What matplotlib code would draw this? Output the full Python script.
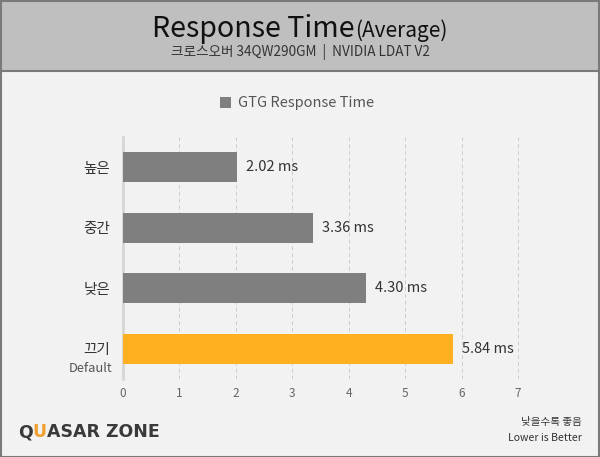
import matplotlib
matplotlib.use("Agg")
import matplotlib.pyplot as plt
from matplotlib.patches import Rectangle

plt.rcParams['font.family'] = ['Noto Sans CJK KR', 'DejaVu Sans']

categories = ['높은', '중간', '낮은', '끄기']
values = [2.02, 3.36, 4.30, 5.84]
bar_colors = ['#7f7f7f', '#7f7f7f', '#7f7f7f', '#ffb020']
value_labels = ['2.02 ms', '3.36 ms', '4.30 ms', '5.84 ms']
xticks = [0, 1, 2, 3, 4, 5, 6, 7]
title_main = 'Response Time'
title_sub = '(Average)'
subtitle = '크로스오버 34QW290GM  |  NVIDIA LDAT V2'
legend_label = 'GTG Response Time'

W, H = 600, 457
fig = plt.figure(figsize=(W / 100, H / 100), dpi=100)
fig.patch.set_facecolor('#f2f2f2')

# header band
fig.patches.append(Rectangle((0, 1 - 71 / H), 1, 71 / H, transform=fig.transFigure,
                             facecolor='#bfbfbf', edgecolor='none', zorder=0))
fig.lines.append(plt.Line2D([0, 1], [1 - 71 / H, 1 - 71 / H], transform=fig.transFigure,
                            color='#7a7a7a', lw=1.5))
# outer border
fig.patches.append(Rectangle((0.5 / W, 0.5 / H), 1 - 1.5 / W, 1 - 1.5 / H, transform=fig.transFigure,
                             facecolor='none', edgecolor='#7a7a7a', lw=1.5, zorder=10))

# title
t1 = fig.text(0, 0, title_main, fontsize=20.6, color='#111111', va='baseline', ha='left')
t2 = fig.text(0, 0, title_sub, fontsize=15, color='#111111', va='baseline', ha='left')
fig.canvas.draw()
r = fig.canvas.get_renderer()
w1 = t1.get_window_extent(r).width
w2 = t2.get_window_extent(r).width
x0 = (W - (w1 + w2)) / 2
t1.set_position((x0 / W, 1 - 37 / H))
t2.set_position(((x0 + w1) / W, 1 - 37 / H))

fig.text(0.5, 1 - 52 / H, subtitle, fontsize=9.8, color='#333333', ha='center', va='center')

# axes
ax_left = 123 / W
unit = (518 - 123) / 7
ax_right_px = 123 + unit * 7.3
ax = fig.add_axes([ax_left, 1 - 379 / H, (ax_right_px - 123) / W, (379 - 137) / H])
ax.set_facecolor('none')
ypos = list(range(len(categories)))[::-1]
ax.barh(ypos, values, height=0.5, color=bar_colors, zorder=3, label=legend_label)
ax.set_ylim(-0.5, 3.5)
ax.set_xlim(0, 7.3)
ax.set_xticks(xticks)
ax.set_xticklabels([str(v) for v in xticks], fontsize=8.5, color='#666666')
ax.set_yticks(ypos)
ax.set_yticklabels(categories, fontsize=10.5, color='#333333')
ax.tick_params(length=0, pad=6)
ax.tick_params(axis='y', pad=9)
for s in ['top', 'right', 'bottom']:
    ax.spines[s].set_visible(False)
ax.spines['left'].set_color('#d6d6d6')
ax.spines['left'].set_linewidth(2)
ax.grid(axis='x', linestyle=(0, (4, 3)), color='#cccccc', lw=0.7, zorder=0)

for y, v, lab in zip(ypos, values, value_labels):
    ax.text(v + 0.16, y, lab, fontsize=10.5, color='#333333', va='center', ha='left')

# Default sublabel
ax.text(-0.19, -0.32, 'Default', fontsize=9.3, color='#555555', ha='right', va='center',
        transform=ax.transData)

# legend
fig.patches.append(Rectangle((220 / W, 1 - 108 / H), 11 / W, 11 / H, transform=fig.transFigure,
                             facecolor='#7f7f7f', edgecolor='none'))
fig.text(238 / W, 1 - 103 / H, legend_label, fontsize=10.5, color='#555555', ha='left', va='center')

# bottom right note
fig.text(582 / W, 1 - 422 / H, '낮을수록 좋음', fontsize=7.6, color='#333333', ha='right', va='center')
fig.text(582 / W, 1 - 438 / H, 'Lower is Better', fontsize=7.6, color='#333333', ha='right', va='center')

# logo
parts = [('Q', '#3a3a3a'), ('U', '#f0a030'), ('ASAR ZONE', '#3a3a3a')]
xp = 18
for s, c in parts:
    tt = fig.text(xp / W, 1 - 432 / H, s, fontsize=12.5, fontweight='bold', color=c,
                  family='DejaVu Sans', ha='left', va='center')
    fig.canvas.draw()
    xp += tt.get_window_extent(fig.canvas.get_renderer()).width

fig.savefig('out.png', dpi=100, facecolor=fig.get_facecolor())
